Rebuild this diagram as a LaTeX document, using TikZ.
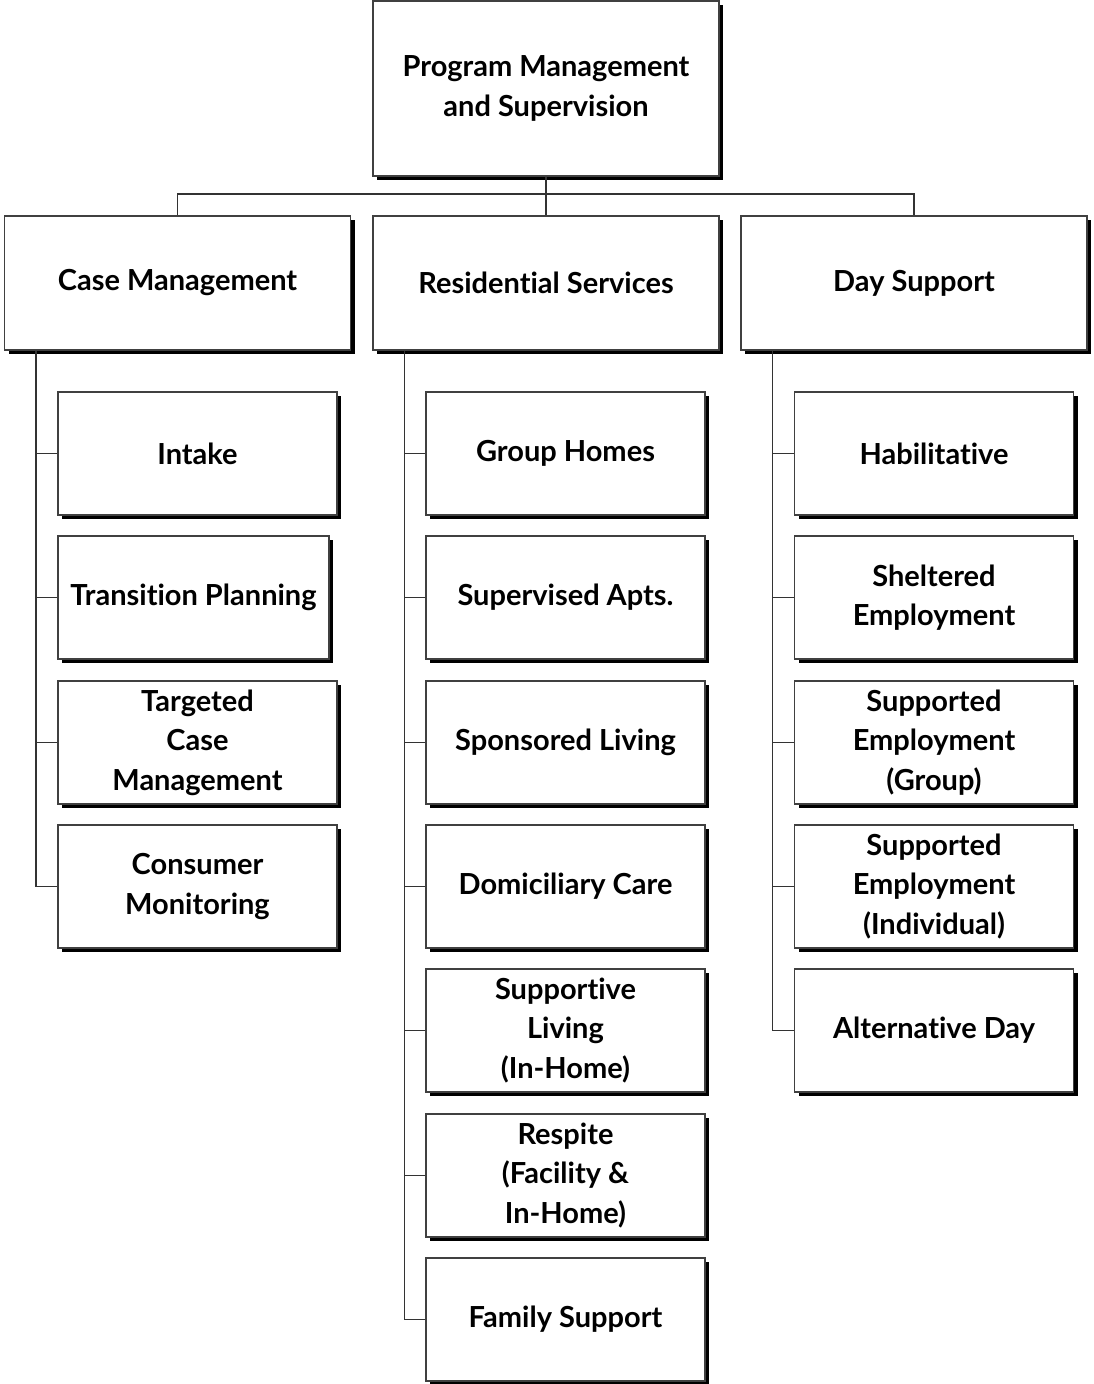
\documentclass[tikz,border=0pt]{standalone}
\usepackage{fontspec}
\setmainfont{Lato}[Ligatures=NoCommon]
\usetikzlibrary{shadows}
\begin{document}
\begin{tikzpicture}[x=1pt,y=-1pt,
  box/.style={draw=black!75, line width=1.1pt, fill=white, align=center,
    inner sep=2pt,
    font=\fontsize{29}{39.5}\selectfont\bfseries,
    drop shadow={shadow xshift=4pt, shadow yshift=-4pt, opacity=1, fill=black}},
  head/.style={box, minimum width=346, minimum height=134},
  item/.style={box, minimum width=279, minimum height=123},
  link/.style={draw=black!80, line width=1.2pt}]
\useasboundingbox (0,0) rectangle (1094,1384);

% top level
\node[box, minimum width=346, minimum height=175] (pm) at (546,88.5)
  {Program Management\\and Supervision};

% departments
\node[head] (cm) at (177.5,283) {Case Management};
\node[head] (rs) at (546,283) {Residential Services};
\node[head] (ds) at (914,283) {Day Support};

% case management units
\node[item] (intake) at (197.5,453.5) {Intake};
\node[item, minimum width=271] (trans) at (193.5,597.5) {Transition Planning};
\node[item] (tcm) at (197.5,742.5) {Targeted\\Case\\Management};
\node[item] (cons) at (197.5,886.5) {Consumer\\Monitoring};

% residential units
\node[item] (grp) at (565.5,453.5) {Group Homes};
\node[item] (sup) at (565.5,597.5) {Supervised Apts.};
\node[item] (spon) at (565.5,742.5) {Sponsored Living};
\node[item] (dom) at (565.5,886.5) {Domiciliary Care};
\node[item] (supl) at (565.5,1030.5) {Supportive\\Living\\(In-Home)};
\node[item] (resp) at (565.5,1175.5) {Respite\\(Facility \&\\In-Home)};
\node[item] (fam) at (565.5,1319.5) {Family Support};

% day support units
\node[item] (hab) at (934,453.5) {Habilitative};
\node[item] (shel) at (934,597.5) {Sheltered\\Employment};
\node[item] (seg) at (934,742.5) {Supported\\Employment\\(Group)};
\node[item] (sei) at (934,886.5) {Supported\\Employment\\(Individual)};
\node[item] (alt) at (934,1030.5) {Alternative Day};

% top-level bus
\coordinate (bus) at (546,194);
\draw[link] (pm.south) -- (bus);
\draw[link] (cm.north) |- (bus) -| (ds.north);
\draw[link] (bus) -- (rs.north);

% column spines
\coordinate (cmL) at ([xshift=32]cm.south west);
\coordinate (rsL) at ([xshift=32]rs.south west);
\coordinate (dsL) at ([xshift=32]ds.south west);
\draw[link] (cmL) |- (cons.west);
\draw[link] (rsL) |- (fam.west);
\draw[link] (dsL) |- (alt.west);

% branch ticks
\foreach \n in {intake,trans,tcm}{\draw[link] (\n.west) -- (cmL |- \n.west);}
\foreach \n in {grp,sup,spon,dom,supl,resp}{\draw[link] (\n.west) -- (rsL |- \n.west);}
\foreach \n in {hab,shel,seg,sei}{\draw[link] (\n.west) -- (dsL |- \n.west);}
\end{tikzpicture}
\end{document}
